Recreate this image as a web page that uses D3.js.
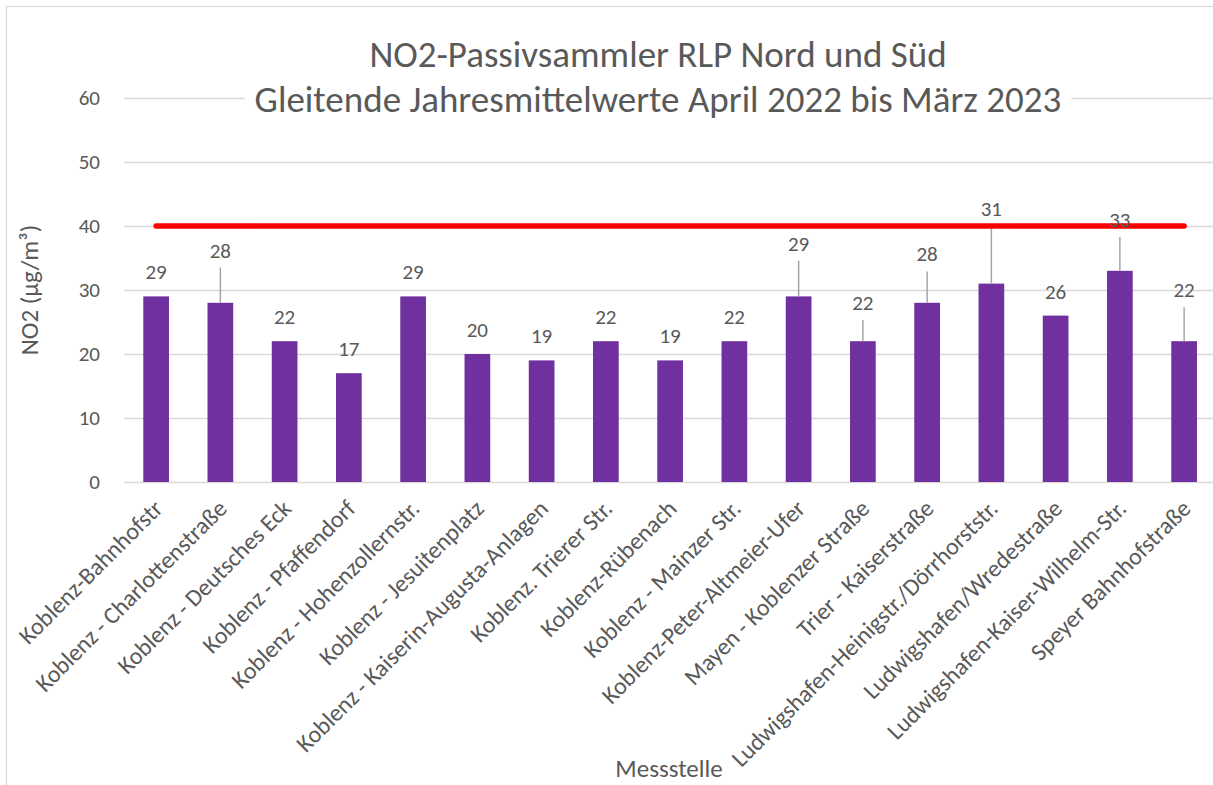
<!DOCTYPE html>
<html>
<head>
<meta charset="utf-8">
<script src="https://cdn.jsdelivr.net/npm/d3@7"></script>
<style>
  body { margin: 0; background: #fff; }
  svg text { font-family: Calibri, Carlito, Lato, sans-serif; fill: #595959; }
</style>
</head>
<body>
<div id="chart"></div>
<script>
// Messstellen und Werte
var stationen = ["Koblenz-Bahnhofstr", "Koblenz - Charlottenstraße", "Koblenz - Deutsches Eck",
  "Koblenz - Pfaffendorf", "Koblenz - Hohenzollernstr.", "Koblenz - Jesuitenplatz",
  "Koblenz - Kaiserin-Augusta-Anlagen", "Koblenz. Trierer Str.", "Koblenz-Rübenach",
  "Koblenz - Mainzer Str.", "Koblenz-Peter-Altmeier-Ufer", "Mayen - Koblenzer Straße",
  "Trier - Kaiserstraße", "Ludwigshafen-Heinigstr./Dörrhorststr.", "Ludwigshafen/Wredestraße",
  "Ludwigshafen-Kaiser-Wilhelm-Str.", "Speyer Bahnhofstraße"];
var werte = [29, 28, 22, 17, 29, 20, 19, 22, 19, 22, 29, 22, 28, 31, 26, 33, 22];
var fehlerPlus = [0, 5.5, 0, 0, 0, 0, 0, 0, 0, 0, 5.6, 3.3, 4.9, 9, 0, 5.3, 5.3];
var grenzwert = [40, 40, 40, 40, 40, 40, 40, 40, 40, 40, 40, 40, 40, 40, 40, 40, 40];
var yTicks = [0, 10, 20, 30, 40, 50, 60];
var titel = ["NO2-Passivsammler RLP Nord und Süd", "Gleitende Jahresmittelwerte April 2022 bis März 2023"];

var W = 1213, H = 785;
var margin = {top: 98, left: 124, bottom: 303};
var width = 17 * 64.25;
var height = H - margin.top - margin.bottom;

var svg = d3.select("#chart").append("svg")
  .attr("width", W).attr("height", H);

// Rahmen
svg.append("rect").attr("x", 6.5).attr("y", 6.5).attr("width", W + 20).attr("height", H + 20)
  .attr("fill", "none").attr("stroke", "#D9D9D9").attr("stroke-width", 1.2);

var g = svg.append("g").attr("transform", "translate(" + margin.left + "," + margin.top + ")");

var x = d3.scaleBand().domain(stationen).range([0, width]).paddingInner(0.6).paddingOuter(0.3);
var y = d3.scaleLinear().domain([0, 60]).range([height, 0]);

// Gitterlinien und Y-Achse
var yAxis = g.append("g")
  .call(d3.axisLeft(y).tickValues(yTicks).tickSize(-width).tickPadding(24));
yAxis.select(".domain").remove();
yAxis.selectAll(".tick line").attr("stroke", "#D9D9D9").attr("stroke-width", 1.5);
yAxis.selectAll(".tick text").style("font-size", "21px").attr("fill", "#595959");

// Titel mit weißem Hintergrund
var tg = svg.append("g");
var titleText = tg.append("text").attr("text-anchor", "middle").style("font-size", "37px");
titel.forEach(function(t, i) {
  titleText.append("tspan").attr("x", 658).attr("y", 67 + i * 45).text(t);
});
var bb = titleText.node().getBBox();
tg.insert("rect", "text").attr("x", bb.x - 10).attr("y", bb.y).attr("width", bb.width + 20)
  .attr("height", bb.height + 4).attr("fill", "#fff");

// Balken
g.selectAll(".bar").data(werte).enter().append("rect")
  .attr("class", "bar")
  .attr("x", function(d, i) { return x(stationen[i]); })
  .attr("y", function(d) { return y(d); })
  .attr("width", x.bandwidth())
  .attr("height", function(d) { return height - y(d); })
  .attr("fill", "#7030A0");

// Fehlerbalken (nur plus)
werte.forEach(function(d, i) {
  if (fehlerPlus[i] > 0) {
    var cx = x(stationen[i]) + x.bandwidth() / 2;
    g.append("line").attr("x1", cx).attr("x2", cx)
      .attr("y1", y(d)).attr("y2", y(d + fehlerPlus[i]))
      .attr("stroke", "#A5A5A5").attr("stroke-width", 1.5);
  }
});

// Grenzwertlinie
var line = d3.line()
  .x(function(d, i) { return x(stationen[i]) + x.bandwidth() / 2; })
  .y(function(d) { return y(d); });
g.append("path").datum(grenzwert).attr("d", line)
  .attr("fill", "none").attr("stroke", "#FF0000").attr("stroke-width", 5.5)
  .attr("stroke-linecap", "round");

// Datenbeschriftungen
g.selectAll(".lbl").data(werte).enter().append("text")
  .attr("class", "lbl")
  .attr("text-anchor", "middle")
  .attr("x", function(d, i) { return x(stationen[i]) + x.bandwidth() / 2; })
  .attr("y", function(d, i) {
    return fehlerPlus[i] > 0 ? y(d + fehlerPlus[i]) - 10 : y(d) - 17;
  })
  .style("font-size", "21px").attr("fill", "#404040")
  .text(function(d) { return d; });

// X-Beschriftungen gedreht
g.selectAll(".xl").data(stationen).enter().append("text")
  .attr("class", "xl")
  .attr("text-anchor", "end")
  .attr("transform", function(d) {
    return "translate(" + (x(d) + x.bandwidth() / 2 + 8) + "," + (height + 28) + ") rotate(-45)";
  })
  .style("font-size", "24px")
  .text(function(d) { return d; });

// Achsentitel
svg.append("text").attr("text-anchor", "middle")
  .attr("transform", "translate(38,290) rotate(-90)")
  .style("font-size", "25px").text("NO2 (µg/m³)");
svg.append("text").attr("text-anchor", "middle").attr("x", 669).attr("y", 777)
  .style("font-size", "25px").text("Messstelle");
</script>
</body>
</html>
